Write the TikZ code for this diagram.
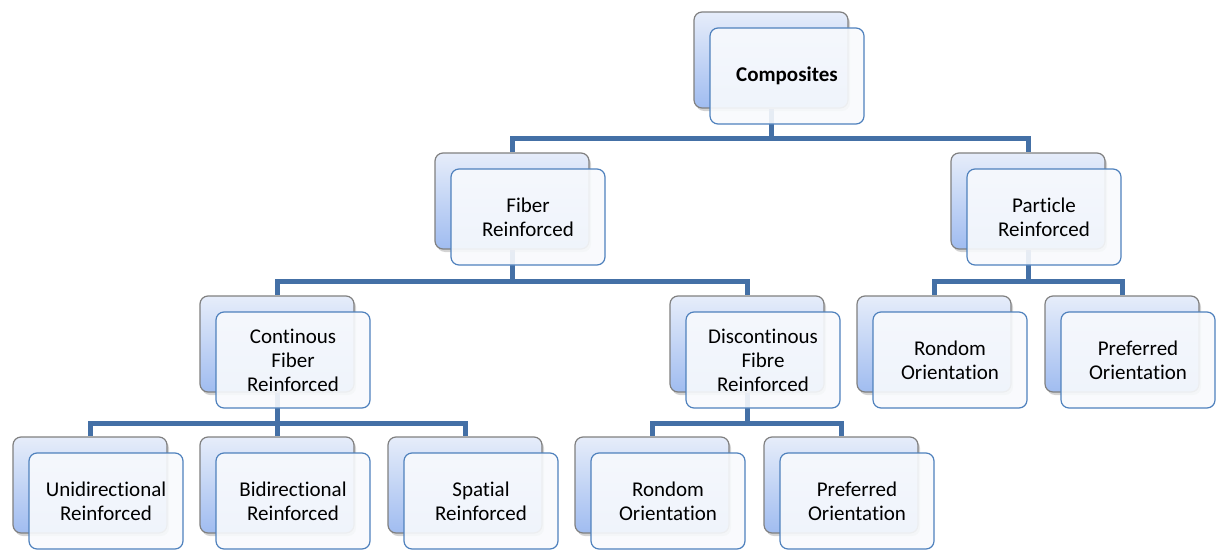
\documentclass[tikz,border=0pt]{standalone}
\usepackage{fontspec}
\setmainfont{Carlito}[Ligatures=NoCommon]
\usetikzlibrary{shadows,backgrounds}

\definecolor{backtop}{RGB}{230,237,250}
\definecolor{backbot}{RGB}{160,188,240}
\definecolor{backline}{RGB}{128,128,128}
\definecolor{frontline}{RGB}{79,129,189}
\definecolor{frontfill}{RGB}{248,250,253}
\definecolor{connline}{RGB}{68,112,166}

\begin{document}
\begin{tikzpicture}[x=1pt, y=-1pt,
  back/.style = {draw=backline, line width=1.2pt, rounded corners=8pt,
    top color=backtop, bottom color=backbot,
    minimum width=154pt, minimum height=96pt, inner sep=0pt,
    drop shadow={shadow xshift=2pt, shadow yshift=-3pt, opacity=0.35}},
  front/.style = {draw=frontline, line width=1.2pt, rounded corners=8pt,
    fill=frontfill, fill opacity=0.9, text opacity=1,
    minimum width=154pt, minimum height=96pt, inner sep=0pt,
    align=center, font=\fontsize{21}{24}\selectfont},
  conn/.style = {draw=connline, line width=5pt}]
\useasboundingbox (0,0) rectangle (1217,551);

% back boxes
\node[back] (comp) at (771,60) {};
\node[back] (fib) at (512,201) {};
\node[back] (part) at (1028,201) {};
\node[back] (cont) at (277,344) {};
\node[back] (disc) at (747,344) {};
\node[back] (rondA) at (934,344) {};
\node[back] (prefA) at (1122,344) {};
\node[back] (uni) at (90,485) {};
\node[back] (bi) at (277,485) {};
\node[back] (spat) at (465,485) {};
\node[back] (rondB) at (652,485) {};
\node[back] (prefB) at (841,485) {};

% front boxes with the labels
\node[front] (compt) at ([xshift=16pt,yshift=-16pt]comp.center) {\textbf{Composites}};
\node[front] (fibt) at ([xshift=16pt,yshift=-16pt]fib.center) {Fiber\\Reinforced};
\node[front] (partt) at ([xshift=16pt,yshift=-16pt]part.center) {Particle\\Reinforced};
\node[front] (contt) at ([xshift=16pt,yshift=-16pt]cont.center) {Continous\\Fiber\\Reinforced};
\node[front] (disct) at ([xshift=16pt,yshift=-16pt]disc.center) {Discontinous\\Fibre\\Reinforced};
\node[front] (rondAt) at ([xshift=16pt,yshift=-16pt]rondA.center) {Rondom\\Orientation};
\node[front] (prefAt) at ([xshift=16pt,yshift=-16pt]prefA.center) {Preferred\\Orientation};
\node[front] (unit) at ([xshift=16pt,yshift=-16pt]uni.center) {Unidirectional\\Reinforced};
\node[front] (bit) at ([xshift=16pt,yshift=-16pt]bi.center) {Bidirectional\\Reinforced};
\node[front] (spatt) at ([xshift=16pt,yshift=-16pt]spat.center) {Spatial\\Reinforced};
\node[front] (rondBt) at ([xshift=16pt,yshift=-16pt]rondB.center) {Rondom\\Orientation};
\node[front] (prefBt) at ([xshift=16pt,yshift=-16pt]prefB.center) {Preferred\\Orientation};

% connectors
\begin{scope}[on background layer]
\draw[conn] (comp.south) -- ++(0,30) -| (fib.north);
\draw[conn] (comp.south) -- ++(0,30) -| (part.north);
\draw[conn] (fib.south) -- ++(0,32) -| (cont.north);
\draw[conn] (fib.south) -- ++(0,32) -| (disc.north);
\draw[conn] (part.south) -- ++(0,32) -| (rondA.north);
\draw[conn] (part.south) -- ++(0,32) -| (prefA.north);
\draw[conn] (cont.south) -- ++(0,31) -| (uni.north);
\draw[conn] (cont.south) -- ++(0,31) -| (bi.north);
\draw[conn] (cont.south) -- ++(0,31) -| (spat.north);
\draw[conn] (disc.south) -- ++(0,31) -| (rondB.north);
\draw[conn] (disc.south) -- ++(0,31) -| (prefB.north);
\end{scope}
\end{tikzpicture}
\end{document}
